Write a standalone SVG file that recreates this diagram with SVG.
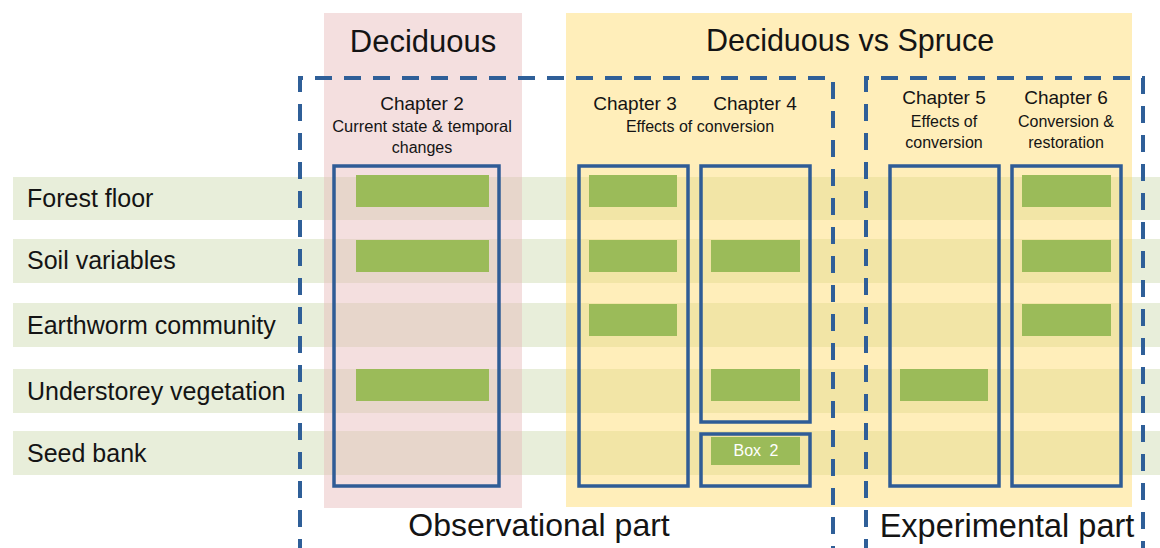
<svg xmlns="http://www.w3.org/2000/svg" width="1160" height="548" viewBox="0 0 1160 548">
<style>
text{font-family:"Liberation Sans",Arial,sans-serif;fill:#141414}
.band{fill:#E8EEDA}
.col-pink{fill:#E6B9B8;fill-opacity:0.45}
.col-yel{fill:#FFD966;fill-opacity:0.45}
.chap{fill:none;stroke:#2F5C96;stroke-width:3.5}
.bar{fill:#9BBB59}
.dash{fill:none;stroke:#2F5F98;stroke-width:4;stroke-dasharray:17 12}
.lbl{font-size:25px}
.h1{font-size:31px;text-anchor:middle}
.ch{font-size:19px;text-anchor:middle}
.sub{font-size:16px;text-anchor:middle}
.part{font-size:32px;text-anchor:middle}
</style>
<rect width="1160" height="548" fill="#fff"/>
<g id="rows">
<g id="row-forest-floor"><rect class="band" x="13" y="177" width="1147" height="43"/><text class="lbl" x="27" y="207">Forest floor</text></g>
<g id="row-soil"><rect class="band" x="13" y="239" width="1147" height="44"/><text class="lbl" x="27" y="269">Soil variables</text></g>
<g id="row-earthworm"><rect class="band" x="13" y="303" width="1147" height="44"/><text class="lbl" x="27" y="334">Earthworm community</text></g>
<g id="row-understorey"><rect class="band" x="13" y="369" width="1147" height="44"/><text class="lbl" x="27" y="400">Understorey vegetation</text></g>
<g id="row-seedbank"><rect class="band" x="13" y="431" width="1147" height="44"/><text class="lbl" x="27" y="462">Seed bank</text></g>
</g>
<g id="deciduous">
<rect class="col-pink" x="324" y="13" width="198" height="495"/>
<text class="h1" x="423" y="52">Deciduous</text>
</g>
<g id="deciduous-vs-spruce">
<rect class="col-yel" x="566" y="13" width="566" height="494"/>
<text class="h1" x="850" y="51" style="font-size:30.5px">Deciduous vs Spruce</text>
</g>
<g id="chapter2">
<text class="ch" x="422" y="110">Chapter 2</text>
<text class="sub" x="422" y="132" style="font-size:16.5px">Current state &amp; temporal</text>
<text class="sub" x="422" y="153">changes</text>
<rect class="chap" x="334" y="166" width="165" height="320"/>
<rect class="bar" x="356" y="175" width="133" height="32"/>
<rect class="bar" x="356" y="240" width="133" height="32"/>
<rect class="bar" x="356" y="369" width="133" height="32"/>
</g>
<g id="chapter3">
<text class="ch" x="635" y="110">Chapter 3</text>
<rect class="chap" x="579" y="166" width="109" height="320"/>
<rect class="bar" x="589" y="175" width="88" height="32"/>
<rect class="bar" x="589" y="240" width="88" height="32"/>
<rect class="bar" x="589" y="304" width="88" height="32"/>
</g>
<g id="chapter4">
<text class="ch" x="755" y="110">Chapter 4</text>
<rect class="chap" x="701" y="166" width="109" height="256"/>
<rect class="bar" x="711" y="240" width="89" height="32"/>
<rect class="bar" x="711" y="369" width="89" height="32"/>
</g>
<text class="sub" x="700" y="132">Effects of conversion</text>
<g id="box2">
<rect class="chap" x="701" y="434" width="109" height="52"/>
<rect class="bar" x="711" y="437" width="89" height="28"/>
<text class="sub" x="756" y="456" style="fill:#fff;word-spacing:4px">Box 2</text>
</g>
<g id="chapter5">
<text class="ch" x="944" y="104">Chapter 5</text>
<text class="sub" x="944" y="127">Effects of</text>
<text class="sub" x="944" y="148">conversion</text>
<rect class="chap" x="890" y="166" width="109" height="320"/>
<rect class="bar" x="900" y="369" width="88" height="32"/>
</g>
<g id="chapter6">
<text class="ch" x="1066" y="104">Chapter 6</text>
<text class="sub" x="1066" y="127">Conversion &amp;</text>
<text class="sub" x="1066" y="148">restoration</text>
<rect class="chap" x="1012" y="166" width="109" height="320"/>
<rect class="bar" x="1022" y="175" width="89" height="32"/>
<rect class="bar" x="1022" y="240" width="89" height="32"/>
<rect class="bar" x="1022" y="304" width="89" height="32"/>
</g>
<g id="observational-part">
<path class="dash" d="M300 556 V78 H833 V556"/>
<text class="part" x="539" y="536">Observational part</text>
</g>
<g id="experimental-part">
<path class="dash" d="M866 556 V78 H1143 V556"/>
<text class="part" x="1007" y="537" style="font-size:32.5px">Experimental part</text>
</g>
<g id="connectors"/>
</svg>
